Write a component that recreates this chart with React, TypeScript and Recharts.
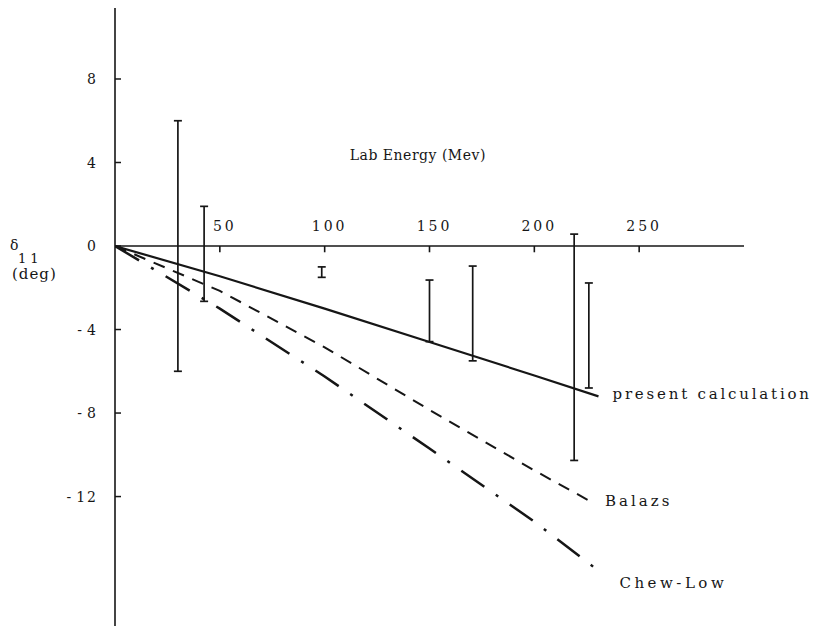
import {
  ComposedChart,
  ErrorBar,
  Label,
  Line,
  ReferenceDot,
  ReferenceLine,
  Scatter,
  XAxis,
  YAxis
} from "recharts";

// delta_11 phase shift (deg) vs lab energy (Mev)
const presentEnergy = [0, 50, 100, 150, 200, 230.6];
const presentDelta = [0, -1.45, -3.0, -4.6, -6.2, -7.2];

const balazsEnergy = [0, 50, 100, 150, 200, 228];
const balazsDelta = [0, -2.15, -4.85, -7.85, -10.75, -12.3];

const chewLowEnergy = [0, 50, 100, 150, 200, 232.5];
const chewLowDelta = [0, -3.0, -6.25, -9.7, -13.2, -15.7];

// experimental points, given as top and bottom of each error bar
const expEnergy = [30, 42.5, 98.6, 150, 170.6, 219, 226];
const expTop = [6.0, 1.9, -1.0, -1.63, -0.96, 0.57, -1.77];
const expBottom = [-6.0, -2.65, -1.5, -4.58, -5.5, -10.27, -6.8];

const xTicks = [50, 100, 150, 200, 250];
const yTicks = [8, 4, 0, -4, -8, -12];

const ink = "#161616";
const font = "'DejaVu Serif', serif";

const toSeries = (xs: number[], ys: number[]) => xs.map((energy, i) => ({ energy, delta: ys[i] }));

const presentData = toSeries(presentEnergy, presentDelta);
const balazsData = toSeries(balazsEnergy, balazsDelta);
const chewLowData = toSeries(chewLowEnergy, chewLowDelta);
const expData = expEnergy.map((energy, i) => ({
  energy,
  delta: (expTop[i] + expBottom[i]) / 2,
  err: (expTop[i] - expBottom[i]) / 2
}));

const last = <T,>(arr: T[]) => arr[arr.length - 1];

function textAt(text: string, dx: number, dy: number, size = 15, spacing = 3, anchor = "start") {
  return (props: any) => {
    const vb = props.viewBox || { x: 0, y: 0 };
    return (
      <text
        x={vb.x + dx}
        y={vb.y + dy}
        fill={ink}
        fontFamily={font}
        fontSize={size}
        letterSpacing={spacing}
        textAnchor={anchor}
      >
        {text}
      </text>
    );
  };
}

function YTick({ x, y, payload }: any) {
  const v = payload.value as number;
  return (
    <g>
      <text x={x - 2} y={y + 5} fill={ink} fontFamily={font} fontSize={14} letterSpacing={2} textAnchor="end">
        {v < 0 ? (
          <>
            <tspan>-</tspan>
            <tspan dx={3}>{Math.abs(v)}</tspan>
          </>
        ) : (
          v
        )}
      </text>
      <line x1={x + 15} x2={x + 21} y1={y} y2={y} stroke={ink} strokeWidth={1.5} />
    </g>
  );
}

function YLabel() {
  return (
    <g fill={ink} fontFamily={font}>
      <text x={10} y={250} fontSize={14}>δ</text>
      <text x={18} y={263} fontSize={13} letterSpacing={4}>11</text>
      <text x={12} y={279} fontSize={15} letterSpacing={1}>(deg)</text>
    </g>
  );
}

export default function App() {
  return (
    <div style={{ position: "fixed", left: 0, top: 0, width: 814, height: 626, background: "#fff" }}>
      <ComposedChart width={814} height={626} margin={{ top: 8, right: 70, bottom: 0, left: 15 }}>
        <XAxis dataKey="energy" type="number" domain={[0, 300]} allowDataOverflow hide height={0} />
        <YAxis
          type="number"
          domain={[-18.2, 11.4]}
          allowDataOverflow
          ticks={yTicks}
          width={100}
          tickSize={0}
          tickMargin={15}
          tickLine={false}
          axisLine={{ stroke: ink, strokeWidth: 1.6 }}
          tick={<YTick />}
        >
          <Label content={<YLabel />} />
        </YAxis>

        <ReferenceLine y={0} stroke={ink} strokeWidth={1.6} />
        {xTicks.map((t) => (
          <ReferenceLine
            key={`tick-${t}`}
            segment={[
              { x: t, y: 0 },
              { x: t, y: -0.3 }
            ]}
            stroke={ink}
            strokeWidth={1.6}
          />
        ))}
        {xTicks.map((t) => (
          <ReferenceDot
            key={`lab-${t}`}
            x={t}
            y={0}
            r={0}
            stroke="none"
            fill="none"
            label={textAt(String(t), 5, -15, 14, 3, "middle")}
          />
        ))}

        <Line
          data={presentData}
          dataKey="delta"
          type="linear"
          stroke={ink}
          strokeWidth={2.2}
          dot={false}
          isAnimationActive={false}
        />
        <Line
          data={balazsData}
          dataKey="delta"
          type="linear"
          stroke={ink}
          strokeWidth={2}
          strokeDasharray="12 9"
          dot={false}
          isAnimationActive={false}
        />
        <Line
          data={chewLowData}
          dataKey="delta"
          type="linear"
          stroke={ink}
          strokeWidth={2.5}
          strokeDasharray="28 14 3 14"
          dot={false}
          isAnimationActive={false}
        />

        <Scatter data={expData} dataKey="delta" shape={() => <g />} isAnimationActive={false}>
          <ErrorBar dataKey="err" direction="y" width={4} stroke={ink} strokeWidth={1.7} isAnimationActive={false} />
        </Scatter>

        <ReferenceDot
          x={112}
          y={4.1}
          r={0}
          stroke="none"
          fill="none"
          label={textAt("Lab Energy (Mev)", 0, 0, 14, 0.5)}
        />
        <ReferenceDot
          x={last(presentEnergy)}
          y={last(presentDelta)}
          r={0}
          stroke="none"
          fill="none"
          label={textAt("present calculation", 14, 3, 15, 2.8)}
        />
        <ReferenceDot
          x={last(balazsEnergy)}
          y={last(balazsDelta)}
          r={0}
          stroke="none"
          fill="none"
          label={textAt("Balazs", 12, 3, 15, 3)}
        />
        <ReferenceDot
          x={last(chewLowEnergy)}
          y={last(chewLowDelta)}
          r={0}
          stroke="none"
          fill="none"
          label={textAt("Chew-Low", 17, 14, 15, 3.5)}
        />
      </ComposedChart>
    </div>
  );
}
